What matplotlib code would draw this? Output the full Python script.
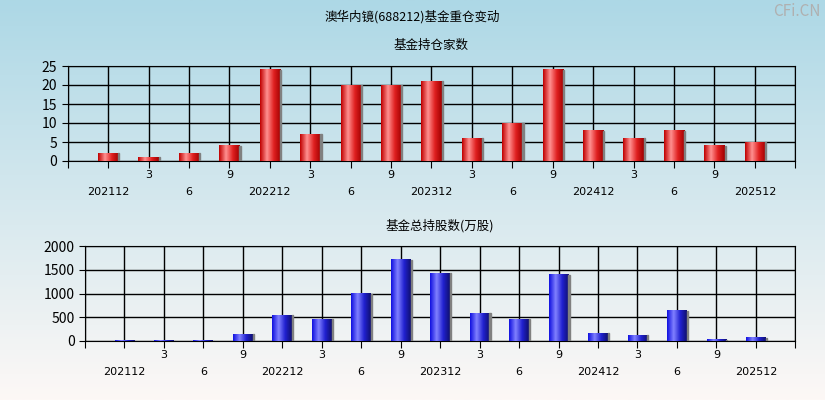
import numpy as np
import matplotlib.pyplot as plt
from matplotlib.colors import LinearSegmentedColormap

plt.rcParams['font.family'] = ['Noto Sans CJK SC', 'DejaVu Sans']

labels = ['202112', '3', '6', '9', '202212', '3', '6', '9', '202312',
          '3', '6', '9', '202412', '3', '6', '9', '202512']
funds = [2, 1, 2, 4, 24, 7, 20, 20, 21, 6, 10, 24, 8, 6, 8, 4, 5]
shares = [8, 8, 8, 140, 540, 460, 1000, 1710, 1430, 580, 460, 1390, 160, 120, 640, 30, 70]

fig = plt.figure(figsize=(8.25, 4.0), dpi=100)
bg = fig.add_axes([0, 0, 1, 1], zorder=-10)
grad = np.linspace(0, 1, 256).reshape(-1, 1)
bgcmap = LinearSegmentedColormap.from_list('bg', ['#fdf8f6', '#add8e6'])
bg.imshow(grad, aspect='auto', cmap=bgcmap, origin='lower', extent=[0, 1, 0, 1])
bg.axis('off')

fig.text(0.5, 0.957, '澳华内镜(688212)基金重仓变动', ha='center', va='center', fontsize=9)

red = LinearSegmentedColormap.from_list('r', ['#c00000', '#ff9090', '#e02020', '#a00000'])
blue = LinearSegmentedColormap.from_list('b', ['#1010e0', '#8080ff', '#2020d0', '#101070'])


def draw(rect, vals, ymax, step, cmap, title):
    ax = fig.add_axes(rect)
    ax.patch.set_alpha(0)
    ax.set_yticks(np.arange(0, ymax + 1, step))
    ax.set_xticks(range(0, 19))
    ax.set_xticklabels([])
    ax.grid(True, color='black', lw=1)
    ax.tick_params(axis='x', length=5)
    ax.tick_params(axis='y', length=4, labelsize=10)
    hgrad = np.linspace(0, 1, 64).reshape(1, -1)
    for i, v in enumerate(vals):
        x = i + 1
        ax.imshow(hgrad, aspect='auto', cmap=cmap, extent=[x - 0.25, x + 0.25, 0, v], zorder=3)
        ax.add_patch(plt.Rectangle((x + 0.25, 0), 0.03, v, color='#808080', zorder=3))
    ax.set_xlim(0, 18)
    ax.set_ylim(0, ymax)
    for i, lab in enumerate(labels):
        y = -0.15 if i % 2 == 1 else -0.33
        ax.text(i + 1, ymax * y, lab, ha='center', va='center', fontsize=8,
                family='DejaVu Sans')
    ax.set_title(title, fontsize=9, pad=12)
    return ax


draw([0.082, 0.5975, 0.882, 0.2375], funds, 25, 5, red, '基金持仓家数')
draw([0.103, 0.1475, 0.861, 0.2375], shares, 2000, 500, blue, '基金总持股数(万股)')

fig.text(0.995, 0.97, 'CFi.CN', ha='right', va='center', fontsize=11, color='#b0b0b0')

plt.savefig('out.png', dpi=100)
